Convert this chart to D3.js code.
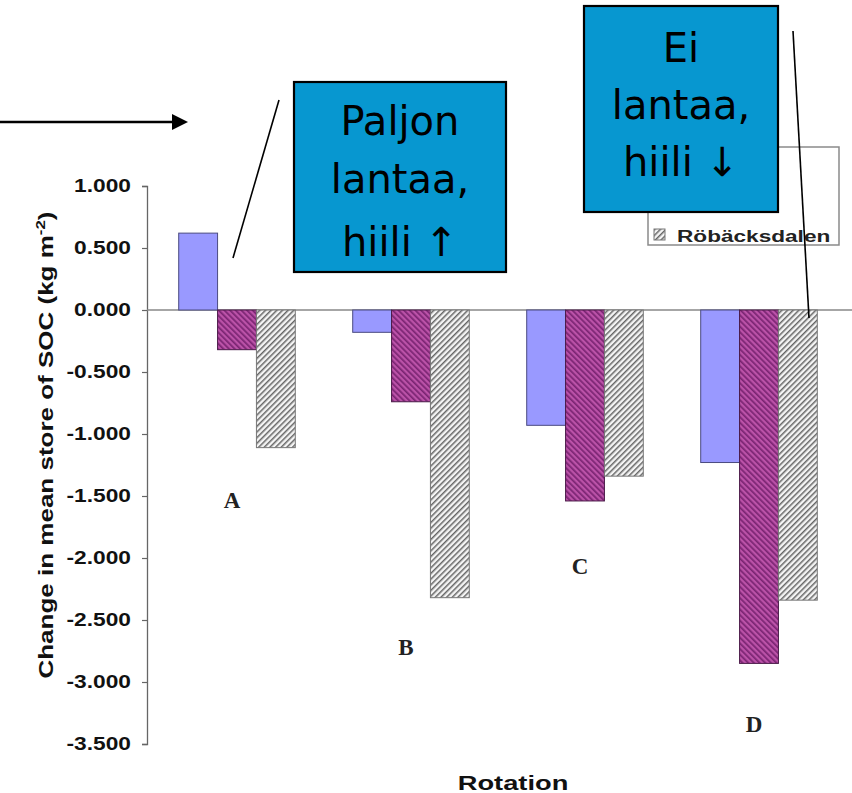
<!DOCTYPE html>
<html>
<head>
<meta charset="utf-8">
<script src="https://cdn.jsdelivr.net/npm/d3@7"></script>
<style>
  html, body { margin: 0; padding: 0; background: #fff; }
  svg { display: block; }
</style>
</head>
<body>
<svg id="chart" width="852" height="793"></svg>
<script>
// ---- data ----
const categories = ["A", "B", "C", "D"];
const seriesNames = ["Offer", "Ås", "Röbäcksdalen"];
const seriesBlue = [0.62, -0.18, -0.93, -1.23];
const seriesPurple = [-0.32, -0.74, -1.54, -2.85];
const seriesGray = [-1.11, -2.32, -1.34, -2.34];
const tickValues = [1, 0.5, 0, -0.5, -1, -1.5, -2, -2.5, -3, -3.5];
const tickLabels = ["1.000", "0.500", "0.000", "-0.500", "-1.000", "-1.500", "-2.000", "-2.500", "-3.000", "-3.500"];
const groupLabelValues = [-1.6, -2.78, -2.13, -3.4];
const visibleLegend = ["Röbäcksdalen"];
const callout1Lines = ["Paljon", "lantaa,", "hiili ↑"];
const callout2Lines = ["Ei", "lantaa,", "hiili ↓"];

const seriesValues = [seriesBlue, seriesPurple, seriesGray];
const table = categories.map((c, i) => ({
  cat: c,
  vals: seriesNames.map((s, j) => ({ series: s, idx: j, value: seriesValues[j][i] }))
}));

const svg = d3.select("#chart");
const defs = svg.append("defs");

// patterns
const pPurple = defs.append("pattern").attr("id", "hatchPurple")
  .attr("patternUnits", "userSpaceOnUse").attr("width", 4).attr("height", 4)
  .attr("patternTransform", "rotate(-45)");
pPurple.append("rect").attr("width", 4).attr("height", 4).attr("fill", "#bb52a8");
pPurple.append("rect").attr("x", 0).attr("width", 1.7).attr("height", 4).attr("fill", "#7a2472");

const pGray = defs.append("pattern").attr("id", "hatchGray")
  .attr("patternUnits", "userSpaceOnUse").attr("width", 4).attr("height", 4)
  .attr("patternTransform", "rotate(45)");
pGray.append("rect").attr("width", 4).attr("height", 4).attr("fill", "#f4f4f4");
pGray.append("rect").attr("x", 0).attr("width", 1.5).attr("height", 4).attr("fill", "#666");

const fills = ["#9999ff", "url(#hatchPurple)", "url(#hatchGray)"];
const strokes = ["#4b4b80", "#4a1a48", "#777777"];

// scales
const y = d3.scaleLinear().domain([1, -3.5]).range([186, 744]);
const x0 = d3.scaleBand().domain(categories).range([150, 846]).paddingInner(0.33).paddingOuter(0.165);
const x1 = d3.scaleBand().domain(seriesNames).range([0, x0.bandwidth()]);
const axisX = 147;

// y axis
const yAxis = d3.axisLeft(y).tickValues(tickValues).tickSize(5).tickPadding(10)
  .tickFormat((d, i) => tickLabels[i]);
const gy = svg.append("g").attr("transform", `translate(${axisX},0)`).call(yAxis);
gy.select(".domain").attr("stroke", "#666").attr("stroke-width", 1.3);
gy.selectAll(".tick line").attr("stroke", "#666").attr("stroke-width", 1.2);
const kTick = 1.3;
gy.selectAll(".tick text")
  .attr("font-family", "'Liberation Sans', Arial, sans-serif")
  .attr("font-weight", "bold").attr("font-size", 17.5).attr("fill", "#111")
  .attr("x", -16 / kTick)
  .attr("transform", `scale(${kTick},1)`);

// zero line
svg.append("line")
  .attr("x1", axisX).attr("x2", 852).attr("y1", y(0)).attr("y2", y(0))
  .attr("stroke", "#888").attr("stroke-width", 1.5);

// bars
const groups = svg.append("g").selectAll("g").data(table).join("g")
  .attr("transform", d => `translate(${x0(d.cat)},0)`);
groups.selectAll("rect").data(d => d.vals).join("rect")
  .attr("x", d => x1(d.series))
  .attr("width", x1.bandwidth())
  .attr("y", d => y(Math.max(0, d.value)))
  .attr("height", d => Math.abs(y(d.value) - y(0)))
  .attr("fill", d => fills[d.idx])
  .attr("stroke", d => strokes[d.idx])
  .attr("stroke-width", 1);

// group labels
svg.append("g").selectAll("text").data(categories).join("text")
  .attr("x", (d) => x0(d) + x0.bandwidth() / 2 - 5)
  .attr("y", (d, i) => y(groupLabelValues[i]))
  .attr("text-anchor", "middle")
  .attr("font-family", "'Liberation Serif', 'Times New Roman', serif")
  .attr("font-weight", "bold").attr("font-size", 23).attr("fill", "#222")
  .text(d => d);

// axis titles
const kTitle = 1.3;
svg.append("text")
  .attr("transform", `translate(513,790) scale(${kTitle},1)`)
  .attr("text-anchor", "middle")
  .attr("font-family", "'Liberation Sans', Arial, sans-serif")
  .attr("font-weight", "bold").attr("font-size", 21).attr("fill", "#111")
  .text("Rotation");

const yt = svg.append("text")
  .attr("transform", `translate(53,445) rotate(-90) scale(${kTitle},1)`)
  .attr("text-anchor", "middle")
  .attr("font-family", "'Liberation Sans', Arial, sans-serif")
  .attr("font-weight", "bold").attr("font-size", 20).attr("fill", "#111");
yt.append("tspan").text("Change in mean store of SOC (kg m");
yt.append("tspan").attr("font-size", 13).attr("dy", -8).text("-2");
yt.append("tspan").attr("dy", 8).text(")");

// legend (only the last entry is visible; the others lie under the callout)
const lg = svg.append("g");
lg.append("rect").attr("x", 648).attr("y", 147).attr("width", 191).attr("height", 98)
  .attr("fill", "#fff").attr("stroke", "#8a8a8a").attr("stroke-width", 1.5);
const kLeg = 1.33;
const items = lg.selectAll("g.item").data(visibleLegend).join("g").attr("class", "item")
  .attr("transform", `translate(654,229)`);
items.append("rect").attr("width", 11).attr("height", 11).attr("y", 0)
  .attr("fill", d => fills[seriesNames.indexOf(d)]).attr("stroke", d => strokes[seriesNames.indexOf(d)]);
items.append("text")
  .attr("transform", `translate(23,13) scale(${kLeg},1)`)
  .attr("font-family", "'Liberation Sans', Arial, sans-serif")
  .attr("font-weight", "bold").attr("font-size", 17).attr("fill", "#222")
  .text(d => d);

// annotations: arrow at top-left
svg.append("line").attr("x1", 0).attr("y1", 122).attr("x2", 175).attr("y2", 122)
  .attr("stroke", "#000").attr("stroke-width", 2.5);
svg.append("path").attr("d", "M172,114 L188,122 L172,130 Z").attr("fill", "#000");

// connector line 1
svg.append("line").attr("x1", 279).attr("y1", 100).attr("x2", 233).attr("y2", 258)
  .attr("stroke", "#000").attr("stroke-width", 1.6);

// callout boxes
function callout(x, yTop, w, h, lines, baselines) {
  const g = svg.append("g");
  g.append("rect").attr("x", x).attr("y", yTop).attr("width", w).attr("height", h)
    .attr("fill", "#0797d0").attr("stroke", "#000").attr("stroke-width", 2.2);
  g.selectAll("text").data(lines).join("text")
    .attr("x", x + w / 2).attr("y", (d, i) => baselines[i])
    .attr("text-anchor", "middle")
    .attr("font-family", "'DejaVu Sans', sans-serif")
    .attr("font-size", 40).attr("fill", "#000")
    .text(d => d);
}
callout(294, 82, 212, 190, callout1Lines, [135, 193, 256]);
callout(584, 6, 194, 206, callout2Lines, [62, 119, 176]);

// connector line 2
svg.append("line").attr("x1", 793).attr("y1", 31).attr("x2", 809).attr("y2", 318)
  .attr("stroke", "#000").attr("stroke-width", 1.6);
</script>
</body>
</html>
